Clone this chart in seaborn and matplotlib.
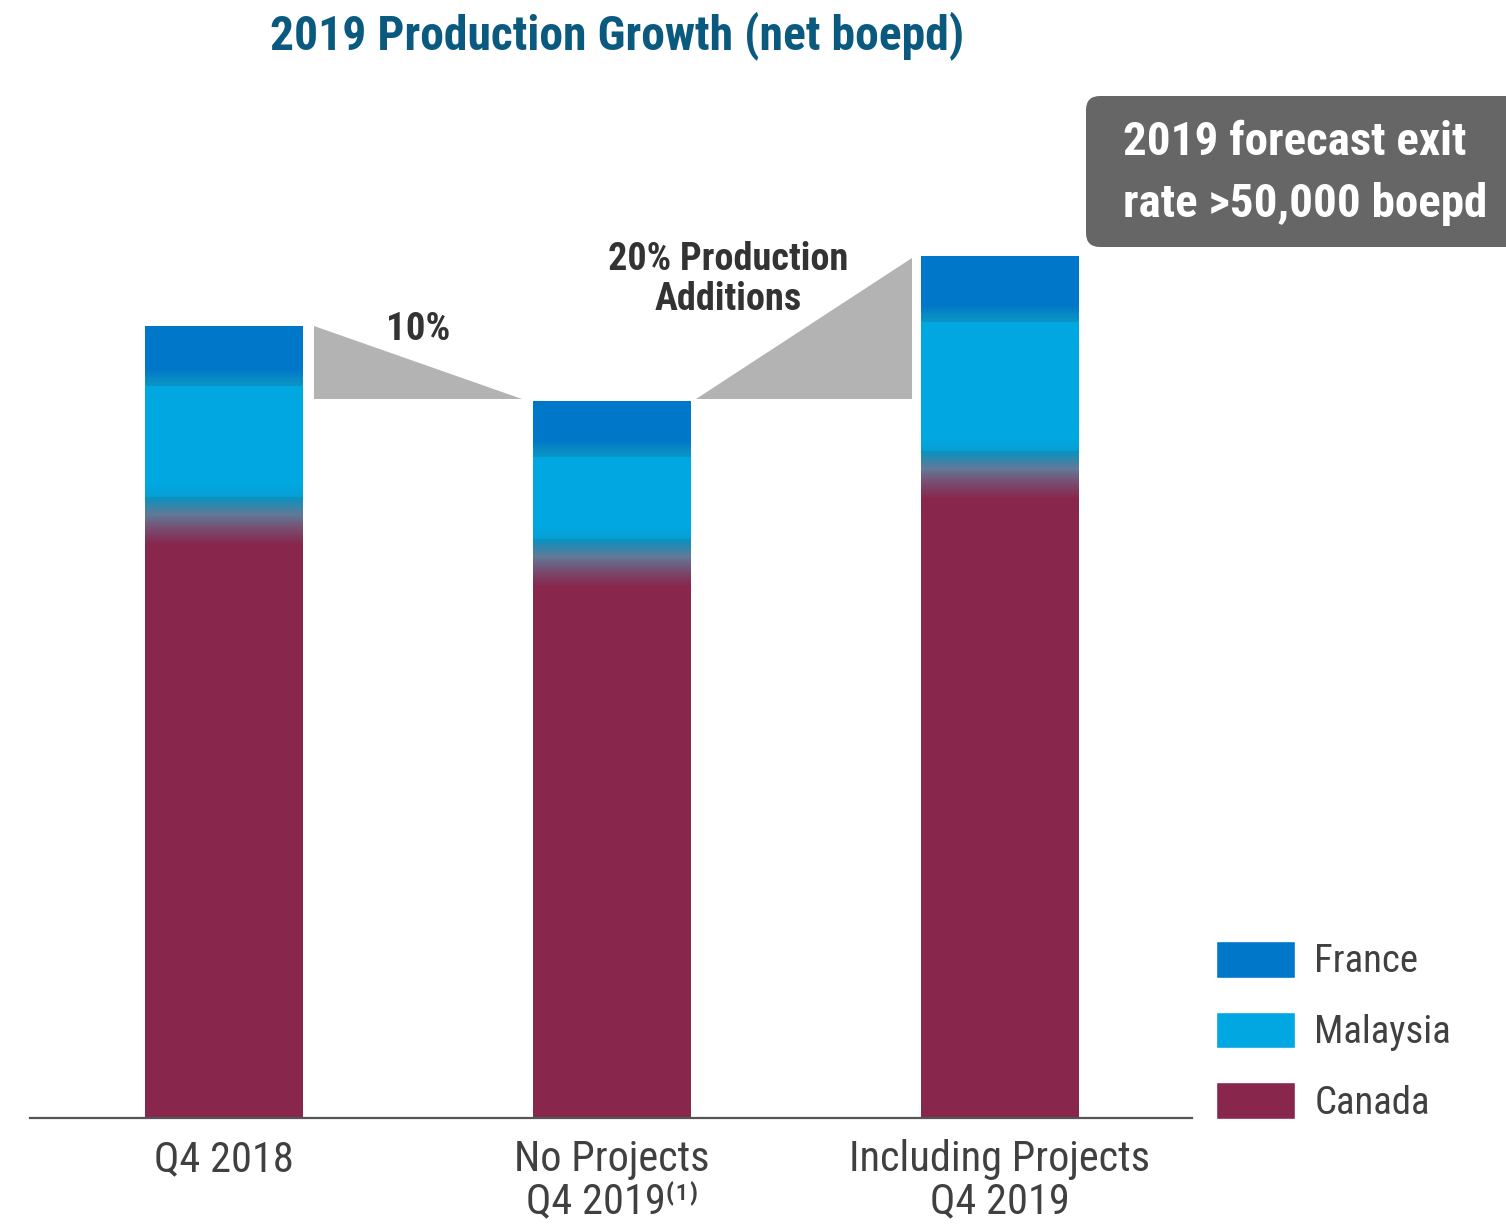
import numpy as np
import pandas as pd
import matplotlib
matplotlib.use("Agg")
import matplotlib.pyplot as plt
import seaborn as sns
from matplotlib import font_manager
from matplotlib.colors import LinearSegmentedColormap
from matplotlib.patches import Patch, FancyBboxPatch, Polygon
from matplotlib.transforms import IdentityTransform

# Data (net boepd)
categories = ['Q4 2018', 'No Projects\nQ4 2019\u207d\u00b9\u207e', 'Including Projects\nQ4 2019']
canada = [35000, 32550, 37650]
malaysia = [7950, 6300, 9000]
france = [3000, 2750, 3350]
growth_labels = ['10%', '20% Production\nAdditions']

# Colours
C_FRANCE = '#0077c8'
C_MALAYSIA = '#00a7e0'
C_CANADA = '#89264c'
TITLE_COLOR = '#0a5a80'
TEXT_COLOR = '#404040'

sns.set_style('white')

# pick a narrow font if one is installed
names = {f.name for f in font_manager.fontManager.ttflist}
FONT = 'DejaVu Sans'
for cand in ['Liberation Sans Narrow', 'Roboto Condensed', 'Open Sans Condensed', 'DejaVu Sans Condensed']:
    if cand in names:
        FONT = cand
        break
plt.rcParams['font.family'] = [FONT, 'DejaVu Sans']
plt.rcParams['font.stretch'] = 'condensed'

df = pd.DataFrame({'cat': categories, 'Canada': canada, 'Malaysia': malaysia, 'France': france})
df['cm'] = df['Canada'] + df['Malaysia']
df['total'] = df['cm'] + df['France']

fig = plt.figure(figsize=(15.06, 12.26), dpi=100)
ax = fig.add_axes([30 / 1506, 108 / 1226, 1162 / 1506, 1034 / 1226])

W = 0.405
for col, c in [('total', C_FRANCE), ('cm', C_MALAYSIA), ('Canada', C_CANADA)]:
    sns.barplot(data=df, x='cat', y=col, color=c, width=W, saturation=1, ax=ax, zorder=2,
                linewidth=0, edgecolor='none')

ax.set_xlim(-0.5, 2.495)
ax.set_ylim(0, 60000)

# soft gradient transitions between stacked segments
cm_fm = LinearSegmentedColormap.from_list('fm', [(0, '#0897c8'), (0.35, '#0a8cc4'), (1, C_FRANCE)])
cm_mc = LinearSegmentedColormap.from_list(
    'mc', [(0, C_CANADA), (0.25, '#7a4a6e'), (0.5, '#617a98'), (0.72, '#1a8db8'),
           (0.78, '#0a92c2'), (0.8, '#08a0d6'), (1, C_MALAYSIA)])
grad = np.tile(np.linspace(0, 1, 256).reshape(-1, 1), (1, 2))
for i in range(len(categories)):
    x0, x1 = i - W / 2, i + W / 2
    b1 = df['cm'][i]
    ax.imshow(grad, cmap=cm_fm, origin='lower', aspect='auto',
              extent=[x0, x1, b1 - 480, b1 + 480], zorder=3, interpolation='nearest')
    b2 = df['Canada'][i]
    ax.imshow(grad, cmap=cm_mc, origin='lower', aspect='auto',
              extent=[x0, x1, b2 - 1750, b2 + 1750], zorder=3, interpolation='nearest')
ax.set_xlim(-0.5, 2.495)
ax.set_ylim(0, 60000)

# grey growth wedges between bar tops
gap = 0.03
t = df['total']
ax.add_patch(Polygon([(W / 2 + gap, t[0]), (W / 2 + gap, t[1] + 100), (1 - W / 2 - gap, t[1] + 100)],
                     closed=True, facecolor='#b3b3b3', edgecolor='none', zorder=1))
ax.add_patch(Polygon([(1 + W / 2 + 0.015, t[1] + 100), (2 - W / 2 - 0.023, t[1] + 100), (2 - W / 2 - 0.023, t[2] - 100)],
                     closed=True, facecolor='#b3b3b3', edgecolor='none', zorder=1))
ax.text(0.5, (t[0] + t[1]) / 2 + 2000, growth_labels[0], ha='center', va='center',
        fontsize=28, fontweight='bold', color='#333333')
ax.text(1.3, t[2] - 1350, growth_labels[1], ha='center', va='center',
        fontsize=27.5, fontweight='bold', color='#333333', linespacing=1.12)

# axes styling
for s in ['top', 'right', 'left']:
    ax.spines[s].set_visible(False)
ax.spines['bottom'].set_color('#555555')
ax.spines['bottom'].set_linewidth(1.6)
ax.set_yticks([])
ax.set_xlabel('')
ax.set_ylabel('')
ax.tick_params(axis='x', length=0, pad=15, labelsize=30.5, labelcolor=TEXT_COLOR)
for lbl in ax.get_xticklabels():
    lbl.set_linespacing(1.04)
    lbl.set_verticalalignment('top')

# title
fig.text(617 / 1506, 1 - 36 / 1226, '2019 Production Growth (net boepd)', ha='center', va='center',
         fontsize=34.3, fontweight='bold', color=TITLE_COLOR)

# forecast call-out box
fig.patches.append(FancyBboxPatch((1086, 1226 - 247), 460, 151, boxstyle='round,pad=0,rounding_size=14',
                                  transform=IdentityTransform(), facecolor='#666666', edgecolor='none'))
fig.text(1123 / 1506, 1 - 173 / 1226, '2019 forecast exit\nrate >50,000 boepd', ha='left', va='center',
         fontsize=33.8, fontweight='bold', color='white', linespacing=1.52)

# legend
handles = [Patch(facecolor=C_FRANCE, label='France'),
           Patch(facecolor=C_MALAYSIA, label='Malaysia'),
           Patch(facecolor=C_CANADA, label='Canada')]
fig.legend(handles=handles, loc='lower left', bbox_to_anchor=(1216 / 1506, 104 / 1226), frameon=False,
           fontsize=28, handlelength=2.03, handleheight=1.08, labelspacing=0.8, handletextpad=0.5,
           borderpad=0, borderaxespad=0, labelcolor=TEXT_COLOR)

fig.savefig('out.png', dpi=100)
